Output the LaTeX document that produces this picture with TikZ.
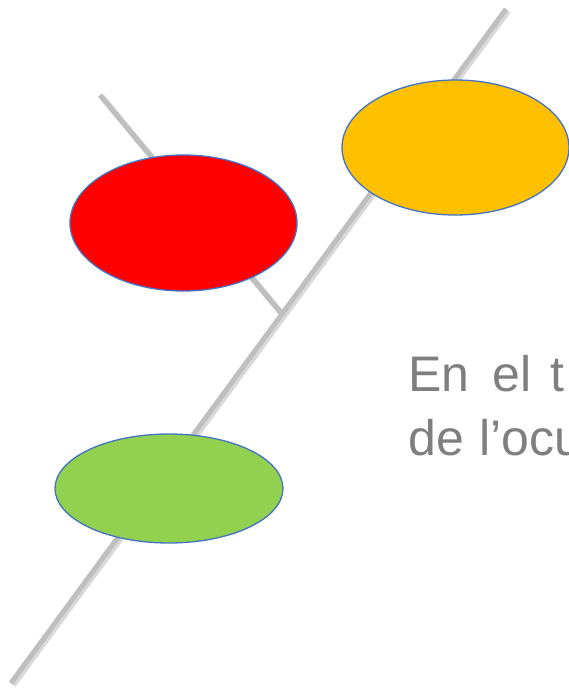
\documentclass[tikz,border=0pt]{standalone}
\usepackage{fontspec}
\setmainfont{Liberation Sans}
\definecolor{lineg}{HTML}{BFBFBF}
\definecolor{shad}{HTML}{D9D9D9}
\definecolor{edgeb}{HTML}{4472C4}
\definecolor{redf}{HTML}{FF0000}
\definecolor{orangef}{HTML}{FFC000}
\definecolor{greenf}{HTML}{92D050}
\definecolor{textg}{HTML}{7F7F7F}
\begin{document}
\begin{tikzpicture}[x=1pt,y=-1pt,
  axis/.style={draw=lineg,line width=5pt},
  axshadow/.style={draw=shad,line width=6pt},
  blob/.style={draw=edgeb,line width=1.3pt},
  txt/.style={text=textg,font=\fontsize{50}{60}\selectfont,anchor=base west,inner sep=0pt}]
\useasboundingbox (0,0) rectangle (569,691);
\clip (0,0) rectangle (569,691);
\coordinate (s1) at (100,95);
\coordinate (s2) at (281,313);
\coordinate (l1) at (506,9);
\coordinate (l2) at (11,683);
\draw[axshadow] ([shift={(2,2)}]s1) -- ([shift={(2,2)}]s2);
\draw[axshadow] ([shift={(2,2)}]l1) -- ([shift={(2,2)}]l2);
\draw[axis] (s1) -- (s2);
\draw[axis] (l1) -- (l2);
\filldraw[blob,fill=redf] (183.5,223) ellipse [x radius=113.5, y radius=68];
\filldraw[blob,fill=orangef] (455.5,147.5) ellipse [x radius=113.5, y radius=67.5];
\filldraw[blob,fill=greenf] (169,488.5) ellipse [x radius=114, y radius=54.5];
\node[txt] (t1) at (408,391) {En};
\node[txt] (t2) at (492,391) {el};
\node[txt] (t3) at (550,391) {t};
\node[txt] (t4) at (408,455) {de};
\node[txt] (t5) at (479,455) {l’ocu};
\end{tikzpicture}
\end{document}
